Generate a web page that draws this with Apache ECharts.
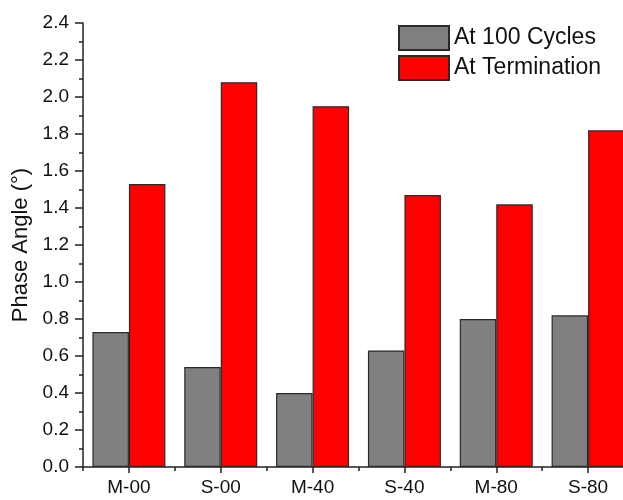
<!DOCTYPE html>
<html>
<head>
<meta charset="utf-8">
<script src="https://cdn.jsdelivr.net/npm/echarts@6/dist/echarts.min.js"></script>
<style>
    html, body { margin: 0; padding: 0; background: #fff; }
    #chart { width: 623px; height: 500px; }
</style>
</head>
<body>
<div id="chart"></div>
<script>
var categories = ['M-00', 'S-00', 'M-40', 'S-40', 'M-80', 'S-80'];
var cycles100 = [0.73, 0.54, 0.40, 0.63, 0.80, 0.82];
var termination = [1.53, 2.08, 1.95, 1.47, 1.42, 1.82];
var seriesNames = ['At 100 Cycles', 'At Termination'];

var myChart = echarts.init(document.getElementById('chart'));
var font = 'Liberation Sans, Arial, sans-serif';

var option = {
    backgroundColor: '#fff',
    animation: false,
    textStyle: { fontFamily: font },
    legend: {
        orient: 'vertical',
        left: 398,
        top: 25,
        padding: 0,
        itemWidth: 50,
        itemHeight: 24,
        itemGap: 4,
        icon: 'rect',
        textStyle: { fontSize: 23, color: '#111', fontFamily: font },
        data: seriesNames
    },
    grid: {
        left: 83,
        top: 23,
        width: 551,
        height: 444,
        outerBoundsMode: 'none',
        containLabel: false
    },
    xAxis: [{
        type: 'category',
        data: categories,
        axisLine: { show: true, lineStyle: { color: '#222', width: 1.5 } },
        axisTick: { show: true, alignWithLabel: true, length: 6, lineStyle: { color: '#222', width: 1.5 } },
        axisLabel: { fontSize: 19, color: '#111', margin: 11, fontFamily: font },
        splitLine: { show: false }
    }, {
        // ticks between the categories
        type: 'category',
        data: categories,
        position: 'bottom',
        axisLine: { show: false },
        axisTick: { show: true, length: 4, lineStyle: { color: '#222', width: 1.5 } },
        axisLabel: { show: false },
        splitLine: { show: false }
    }],
    yAxis: [{
        type: 'value',
        min: 0,
        max: 2.4,
        interval: 0.2,
        name: 'Phase Angle (°)',
        nameLocation: 'middle',
        nameGap: 49,
        nameTextStyle: { fontSize: 22, color: '#111', fontFamily: font },
        axisLine: { show: true, lineStyle: { color: '#222', width: 1.5 } },
        axisTick: { show: true, length: 8, lineStyle: { color: '#222', width: 1.5 } },
        minorTick: { show: true, splitNumber: 2, length: 4, lineStyle: { color: '#222', width: 1.5 } },
        axisLabel: {
            fontSize: 19, color: '#111', margin: 14, fontFamily: font,
            formatter: function (v) { return v.toFixed(1); }
        },
        splitLine: { show: false }
    }],
    series: [
        {
            name: seriesNames[0],
            type: 'bar',
            data: cycles100,
            barWidth: 36.5,
            barGap: '0%',
            itemStyle: { color: '#808080', borderColor: '#2a2a2a', borderWidth: 1.2 }
        },
        {
            name: seriesNames[1],
            type: 'bar',
            data: termination,
            barWidth: 36.5,
            barGap: '0%',
            itemStyle: { color: '#ff0000', borderColor: '#2a2a2a', borderWidth: 1.2 }
        }
    ]
};

myChart.setOption(option);
window.addEventListener("resize", function () {
    myChart.resize();
});
</script>
</body>
</html>
